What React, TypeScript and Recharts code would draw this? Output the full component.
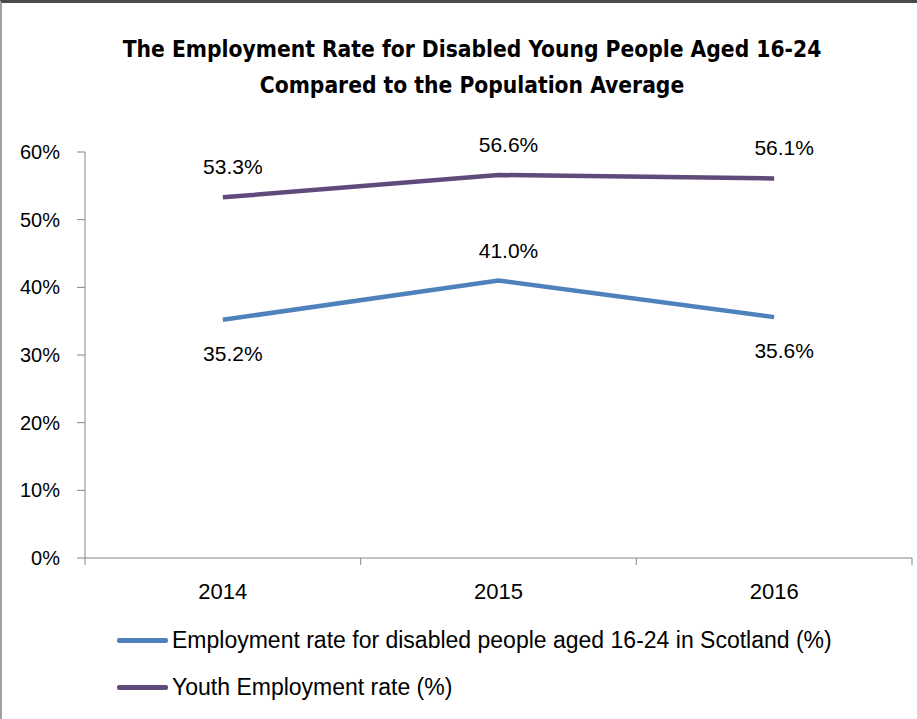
import { LineChart, Line, XAxis, YAxis, Legend, LabelList } from "recharts";

const years = ["2014", "2015", "2016"];
const disabledRate = [35.2, 41.0, 35.6];
const youthRate = [53.3, 56.6, 56.1];
const yTicks = [0, 10, 20, 30, 40, 50, 60];

const disabledName = "Employment rate for disabled people aged 16-24 in Scotland (%)";
const youthName = "Youth Employment rate (%)";

// where each data label sits relative to its point
const disabledLabelSide = ["bottom", "top", "bottom"];
const youthLabelSide = ["top", "top", "top"];

const chartData = years.map((year, i) => ({
  year,
  idx: i,
  disabled: disabledRate[i],
  youth: youthRate[i],
}));

const boundTicks = [...years.map((_, i) => i), years.length];

const FONT = "'Liberation Sans', Arial, sans-serif";
const AXIS = "#868686";

const makeLabel = (sides: string[]) => (props: any) => {
  const { x, y, value, index } = props;
  const below = sides[index] === "bottom";
  return (
    <text
      x={x + 10}
      y={below ? y + 41 : y - 23}
      textAnchor="middle"
      fontSize={21}
      fontFamily={FONT}
      fill="#000"
    >
      {Number(value).toFixed(1)}%
    </text>
  );
};

const NoTick = () => <g />;

const LegendBox = (props: any) => {
  const { payload } = props;
  return (
    <div style={{ paddingLeft: 117, paddingTop: 14, fontFamily: FONT, fontSize: 23 }}>
      {(payload || []).map((p: any) => (
        <div key={p.value} style={{ height: 47, display: "flex", alignItems: "center" }}>
          <span
            style={{
              display: "inline-block",
              width: 51,
              height: 5,
              borderRadius: 2,
              background: p.color,
              marginRight: 4,
            }}
          />
          <span style={{ color: "#000" }}>{p.value}</span>
        </div>
      ))}
    </div>
  );
};

export default function App() {
  return (
    <div
      style={{
        position: "absolute",
        left: 0,
        top: 0,
        width: 917,
        height: 719,
        background: "#fff",
        boxSizing: "border-box",
        borderTop: "3px solid #4a4a4a",
        borderLeft: "2px solid #a0a0a0",
      }}
    >
      <div
        style={{
          position: "absolute",
          left: 0,
          top: 28,
          width: 940,
          textAlign: "center",
          fontFamily: "'DejaVu Sans Condensed', 'Liberation Sans', sans-serif",
          fontWeight: "bold",
          fontSize: 22.6,
          lineHeight: "36px",
          color: "#000",
        }}
      >
        The Employment Rate for Disabled Young People Aged 16-24
        <br />
        Compared to the Population Average
      </div>
      <div style={{ position: "absolute", left: -2, top: -3 }}>
        <LineChart
          width={917}
          height={719}
          data={chartData}
          margin={{ top: 152, right: 5, left: 0, bottom: 7 }}
        >
          <XAxis
            xAxisId="bounds"
            type="number"
            dataKey="idx"
            domain={[0, years.length]}
            ticks={boundTicks}
            interval={0}
            tick={<NoTick />}
            tickLine={{ stroke: AXIS }}
            tickSize={7}
            height={1}
            stroke={AXIS}
            allowDataOverflow
          />
          <XAxis
            xAxisId="cat"
            dataKey="year"
            scale="band"
            axisLine={false}
            tickLine={false}
            height={44}
            tickMargin={18}
            tick={{ fill: "#000", fontSize: 22, fontFamily: FONT }}
          />
          <YAxis
            width={85}
            domain={[0, 60]}
            ticks={yTicks}
            interval={0}
            tickFormatter={(v) => `${v}%`}
            stroke={AXIS}
            tickSize={8}
            tickMargin={17}
            tick={{ fill: "#000", fontSize: 20, fontFamily: FONT }}
          />
          <Legend
            verticalAlign="bottom"
            align="left"
            height={109}
            wrapperStyle={{ left: 0, width: 917 }}
            content={<LegendBox />}
          />
          <Line
            xAxisId="cat"
            dataKey="disabled"
            name={disabledName}
            stroke="#4F81BD"
            strokeWidth={4.5}
            dot={false}
            activeDot={false}
            isAnimationActive={false}
          >
            <LabelList dataKey="disabled" content={makeLabel(disabledLabelSide)} />
          </Line>
          <Line
            xAxisId="cat"
            dataKey="youth"
            name={youthName}
            stroke="#604A7B"
            strokeWidth={4.5}
            dot={false}
            activeDot={false}
            isAnimationActive={false}
          >
            <LabelList dataKey="youth" content={makeLabel(youthLabelSide)} />
          </Line>
        </LineChart>
      </div>
    </div>
  );
}
